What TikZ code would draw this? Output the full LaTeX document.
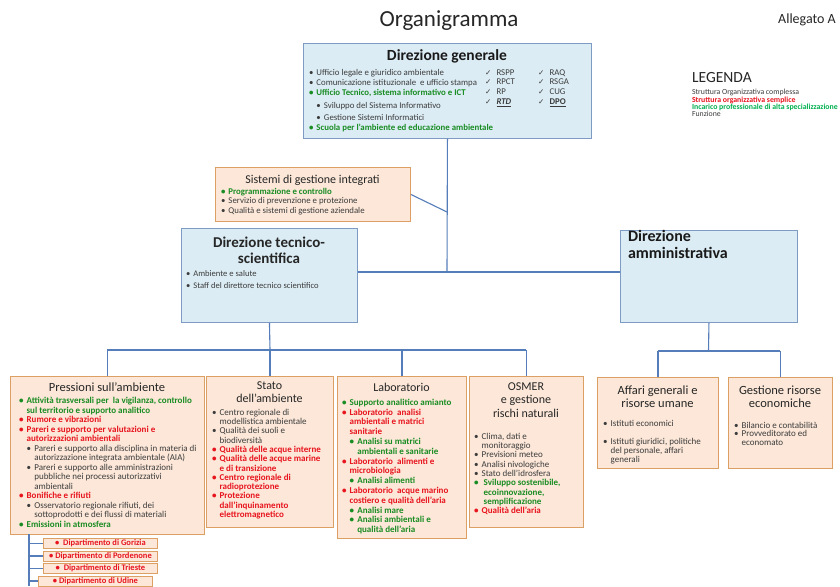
\documentclass[tikz,border=0pt]{standalone}
\usepackage{fontspec}
\setmainfont{Carlito}
\newfontfamily\symfont{DejaVu Sans}
\definecolor{fillblue}{RGB}{219,236,244}
\definecolor{boxblue}{RGB}{125,155,195}
\definecolor{fillorange}{RGB}{252,231,216}
\definecolor{boxorange}{RGB}{220,160,100}
\definecolor{lineblue}{RGB}{85,125,185}
\definecolor{grn}{RGB}{25,140,35}
\definecolor{lgrn}{RGB}{0,176,80}
\definecolor{rd}{RGB}{232,20,30}
\definecolor{txt}{RGB}{60,60,60}
\newcommand{\gtx}[1]{{\color{grn}\bfseries #1}}
\newcommand{\rtx}[1]{{\color{rd}\bfseries #1}}
\newcommand{\bul}{\makebox[0.85em][l]{\textbullet}}
\newcommand{\sbul}{\hspace*{0.85em}\makebox[0.85em][l]{\textbullet}}
\newcommand{\cind}{\hspace*{0.85em}}
\newcommand{\scind}{\hspace*{1.7em}}
\newcommand{\chkm}{{\symfont\fontsize{7.5}{7.5}\selectfont\itshape ✓}\hspace{0.6em}}
\tikzset{
  fnt/.style 2 args={font=\fontsize{#1}{#2}\selectfont},
  bluebox/.style={draw=boxblue, fill=fillblue, line width=0.9pt, inner sep=0pt, anchor=north west},
  orangebox/.style={draw=boxorange, fill=fillorange, line width=0.9pt, inner sep=0pt, anchor=north west},
  dipbox/.style={orangebox, minimum width=114pt, minimum height=10pt, text=rd, fnt={8.5}{8.5}, align=center},
  conn/.style={draw=lineblue, line width=1.1pt},
  body/.style={anchor=north west, inner sep=0pt, outer sep=0pt, align=left, text=txt},
  ttl/.style={anchor=north, inner sep=0pt, outer sep=0pt, align=center, text=black!85},
}
\begin{document}
\begin{tikzpicture}[x=1pt,y=-1pt]
\useasboundingbox[fill=white] (0,0) rectangle (840,586);
% title
\node[inner sep=0pt, text=black!85, fnt={23}{26}] (title) at (449,21) {Organigramma};
\node[inner sep=0pt, text=black!85, fnt={14}{16}] (alleg) at (807,20) {Allegato A};
% legend
\node[anchor=west, inner sep=0pt, text=black!85, fnt={15.5}{17}] (leg) at (692,78) {LEGENDA};
\node[body, fnt={7.8}{7.3}] (legtxt) at (692,89.5) {Struttura Organizzativa complessa\\
{\color{rd}\bfseries Struttura organizzativa semplice}\\
{\color{lgrn}\bfseries Incarico professionale di alta specializzazione}\\
Funzione};
% boxes top level
\node[bluebox, minimum width=288pt, minimum height=95pt] (dg) at (303,43) {};
\node[inner sep=0pt, text=black!90, fnt={15.5}{17}] (dgt) at (447,56) {\bfseries Direzione generale};
\node[body, fnt={8.8}{10}] (dgl) at (309,69.5) {\bul Ufficio legale e giuridico ambientale\\
\bul Comunicazione istituzionale\ \ e ufficio stampa\\
\gtx{\bul Ufficio Tecnico, sistema informativo e ICT}\\[2.5pt]
\sbul Sviluppo del Sistema Informativo\\[2.5pt]
\sbul Gestione Sistemi Informatici\\
\gtx{\bul Scuola per l'ambiente ed educazione ambientale}};
\node[body, fnt={8.8}{9.7}] (dgc1) at (485,69.5) {\chkm RSPP\\ \chkm RPCT\\ \chkm RP\\ \chkm\textbf{\textit{\underline{RTD}}}};
\node[body, fnt={8.8}{9.7}] (dgc2) at (538,69.5) {\chkm RAQ\\ \chkm RSGA\\ \chkm CUG\\ \chkm\textbf{\underline{DPO}}};

\node[orangebox, minimum width=195pt, minimum height=54pt] (sys) at (215,167) {};
\node[inner sep=0pt, text=black!85, fnt={12}{13}] (syst) at (312.5,180) {Sistemi di gestione integrati};
\node[body, fnt={8.8}{9.8}] (sysb) at (221,188) {\gtx{\bul Programmazione e controllo}\\
\bul Servizio di prevenzione e protezione\\
\bul Qualità e sistemi di gestione aziendale};

\node[bluebox, minimum width=176pt, minimum height=94pt] (dts) at (181,228) {};
\node[ttl, fnt={15}{16}] (dtst) at (269,237) {\bfseries Direzione tecnico-\\\bfseries scientifica};
\node[body, fnt={8.6}{12}] (dtsb) at (186,270.5) {\bul Ambiente e salute\\ \bul Staff del direttore tecnico scientifico};

\node[bluebox, minimum width=177pt, minimum height=92pt] (da) at (620,230) {};
\node[body, text=black!90, fnt={16}{17}] (dat) at (628,230) {\bfseries Direzione\\\bfseries amministrativa};

% connectors upper
\coordinate (j1) at (447,272);
\coordinate (j0) at (447,212);
\draw[conn] (dg.south) -- (j1);
\draw[conn] (sys.east) -- (j0);
\draw[conn] (dts.east |- j1) -- (da.west |- j1);

% lower boxes
\node[orangebox, minimum width=194pt, minimum height=158pt] (press) at (10,376) {};
\node[orangebox, minimum width=127pt, minimum height=151pt] (stato) at (206,376) {};
\node[orangebox, minimum width=129pt, minimum height=162pt] (lab) at (337,376) {};
\node[orangebox, minimum width=114pt, minimum height=151pt] (osm) at (469,376) {};
\node[orangebox, minimum width=121pt, minimum height=91pt] (aff) at (597,377) {};
\node[orangebox, minimum width=104pt, minimum height=91pt] (ges) at (728,377) {};

\coordinate (b1) at (270,350);
\coordinate (b2) at (708.5,351);
\draw[conn] (dts.south) -- (b1);
\draw[conn] (press.north |- b1) -- (osm.north |- b1);
\foreach \n in {press,stato,lab,osm} \draw[conn] (\n.north |- b1) -- (\n.north);
\draw[conn] (da.south) -- (b2);
\draw[conn] (aff.north |- b2) -- (ges.north |- b2);
\foreach \n in {aff,ges} \draw[conn] (\n.north |- b2) -- (\n.north);

% Pressioni
\node[ttl, fnt={12.5}{13}] (presst) at (107,382.5) {Pressioni sull'ambiente};
\node[body, fnt={9}{9.5}] (pressb) at (19,397.5) {\gtx{\bul Attività trasversali per\ \ la vigilanza, controllo}\\
\gtx{\cind sul territorio e supporto analitico}\\
\rtx{\bul Rumore e vibrazioni}\\
\rtx{\bul Pareri e supporto per valutazioni e}\\
\rtx{\cind autorizzazioni ambientali}\\
\sbul Pareri e supporto alla disciplina in materia di\\
\scind autorizzazione integrata ambientale (AIA)\\
\sbul Pareri e supporto alle amministrazioni\\
\scind pubbliche nei processi autorizzativi\\
\scind ambientali\\
\rtx{\bul Bonifiche e rifiuti}\\
\sbul Osservatorio regionale rifiuti, dei\\
\scind sottoprodotti e dei flussi di materiali\\
\gtx{\bul Emissioni in atmosfera}};

% Stato
\node[ttl, fnt={12}{13}] (statot) at (269.5,382) {Stato\\dell'ambiente};
\node[body, fnt={9}{9.3}] (statob) at (212,409) {\bul Centro regionale di\\
\cind modellistica ambientale\\
\bul Qualità dei suoli e\\
\cind biodiversità\\
\rtx{\bul Qualità delle acque interne}\\
\rtx{\bul Qualità delle acque marine}\\
\rtx{\cind e di transizione}\\
\rtx{\bul Centro regionale di}\\
\rtx{\cind radioprotezione}\\
\rtx{\bul Protezione}\\
\rtx{\cind dall'inquinamento}\\
\rtx{\cind elettromagnetico}};

% Laboratorio
\node[ttl, fnt={12}{13}] (labt) at (401.5,383.5) {Laboratorio};
\node[body, fnt={9}{9.8}] (labb) at (342,399) {\gtx{\bul Supporto analitico amianto}\\
\rtx{\bul Laboratorio\ \ analisi}\\
\rtx{\cind ambientali e matrici}\\
\rtx{\cind sanitarie}\\
\gtx{\sbul Analisi su matrici}\\
\gtx{\scind ambientali e sanitarie}\\
\rtx{\bul Laboratorio\ \ alimenti e}\\
\rtx{\cind microbiologia}\\
\gtx{\sbul Analisi alimenti}\\
\rtx{\bul Laboratorio\ \ acque marino}\\
\rtx{\cind costiero e qualità dell'aria}\\
\gtx{\sbul Analisi mare}\\
\gtx{\sbul Analisi ambientali e}\\
\gtx{\scind qualità dell'aria}};

% OSMER
\node[ttl, fnt={12}{13.5}] (osmt) at (526,382.5) {OSMER\\e gestione\\rischi naturali};
\node[body, fnt={9}{9.3}] (osmb) at (474,433) {\bul Clima, dati e\\
\cind monitoraggio\\
\bul Previsioni meteo\\
\bul Analisi nivologiche\\
\bul Stato dell'idrosfera\\
\gtx{\bul\ Sviluppo sostenibile,}\\
\gtx{\cind\ ecoinnovazione,}\\
\gtx{\cind\ semplificazione}\\
\rtx{\bul Qualità dell'aria}};

% Affari / Gestione
\node[ttl, fnt={12.5}{13.5}] (afft) at (657.5,385.5) {Affari generali e\\risorse umane};
\node[body, fnt={9}{8.7}] (affb) at (603,420) {\bul Istituti economici\\[10pt]
\bul Istituti giuridici, politiche\\
\cind del personale, affari\\
\cind generali};
\node[ttl, fnt={12.5}{13.5}] (gest) at (780,385.5) {Gestione risorse\\economiche};
\node[body, fnt={9}{8.7}] (gesb) at (734,422) {\bul Bilancio e contabilità\\
\bul Provveditorato ed\\
\cind economato};

% Dipartimenti
\node[dipbox] (dgo) at (43,538) {\bfseries\textbullet\ \ Dipartimento di Gorizia};
\node[dipbox] (dpn) at (43,550.5) {\bfseries\textbullet\ Dipartimento di Pordenone};
\node[dipbox] (dts2) at (43,563) {\bfseries\textbullet\ \ Dipartimento di Trieste};
\node[dipbox] (dud) at (38,575.5) {\bfseries\textbullet\ Dipartimento di Udine};
\coordinate (vt) at (29,534);
\coordinate (vb) at (29,586);
\draw[conn] (vt) -- (vb);
\foreach \n in {dgo,dpn,dts2,dud} \draw[conn] (\n.west -| vt) -- (\n.west);
\end{tikzpicture}
\end{document}
